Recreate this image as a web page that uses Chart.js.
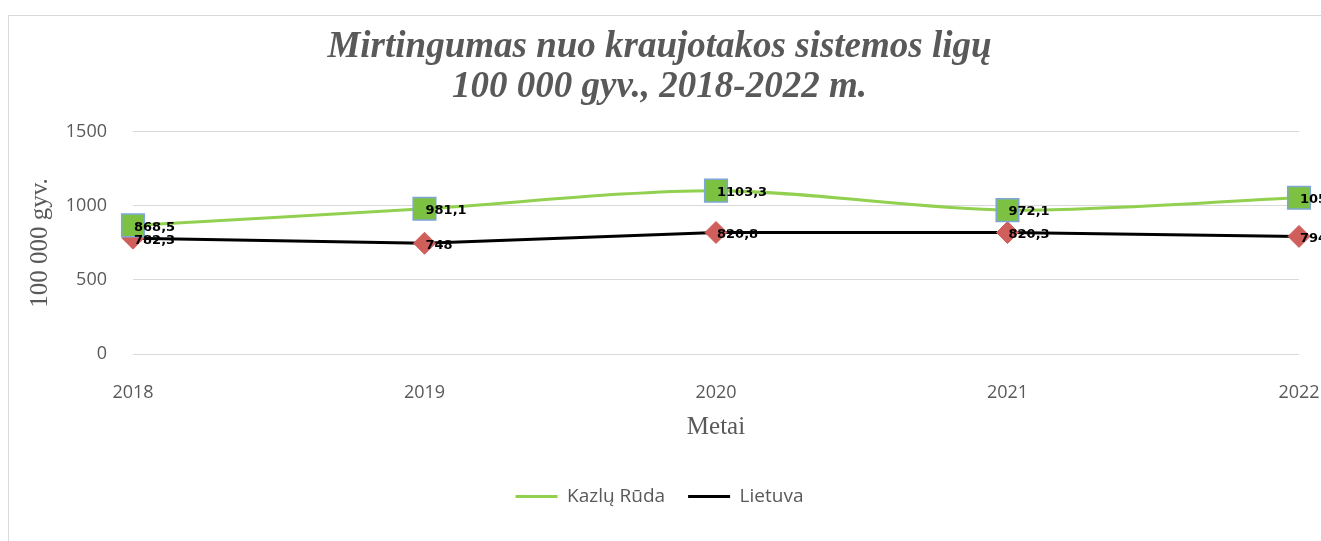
<!DOCTYPE html>
<html>
<head>
<meta charset="utf-8">
<script src="https://cdn.jsdelivr.net/npm/chart.js@4"></script>
<style>
  html, body { margin: 0; padding: 0; background: #fff; overflow: hidden; }
  #myChart { position: absolute; left: 0; top: 0; }
</style>
</head>
<body>
<canvas id="myChart" width="1321" height="541"></canvas>
<script>
const years = ["2018", "2019", "2020", "2021", "2022"];
const kazluRuda = [868.5, 981.1, 1103.3, 972.1, 1055.0];
const lietuva = [782.3, 748, 820.8, 820.3, 794.4];
const yTicks = [0, 500, 1000, 1500];

const gray = '#595959';

// chart frame like the Excel chart border
const framePlugin = {
    id: 'frame',
    beforeDraw: chart => {
        const c = chart.ctx;
        c.save();
        c.strokeStyle = '#d9d9d9';
        c.lineWidth = 1;
        c.strokeRect(8.5, 15.5, 1400, 600);
        c.restore();
    }
};

// value labels next to each marker, comma as decimal sign
const valueLabels = {
    id: 'valueLabels',
    afterDatasetsDraw: chart => {
        const c = chart.ctx;
        c.save();
        c.font = 'bold 13px "DejaVu Sans"';
        c.fillStyle = '#000';
        c.textAlign = 'left';
        c.textBaseline = 'middle';
        chart.data.datasets.forEach((ds, i) => {
            chart.getDatasetMeta(i).data.forEach((pt, j) => {
                const txt = String(ds.data[j]).replace('.', ',');
                c.fillText(txt, pt.x + 1, pt.y + 2);
            });
        });
        c.restore();
    }
};

const ctx = document.getElementById('myChart').getContext('2d');
new Chart(ctx, {
    type: 'line',
    data: {
        labels: years,
        datasets: [{
            label: 'Kazlų Rūda',
            data: kazluRuda,
            borderColor: '#92D050',
            borderWidth: 3,
            tension: 0.3,
            pointStyle: 'rect',
            pointRadius: 16,
            pointHoverRadius: 16,
            pointBackgroundColor: '#7CC142',
            pointBorderColor: '#7EA6D8',
            pointBorderWidth: 1.5,
            clip: false
        }, {
            label: 'Lietuva',
            data: lietuva,
            borderColor: '#000000',
            borderWidth: 3,
            tension: 0,
            pointStyle: 'rectRot',
            pointRadius: 11,
            pointHoverRadius: 11,
            pointBackgroundColor: '#D05F5B',
            pointBorderColor: '#D05F5B',
            pointBorderWidth: 1,
            clip: false
        }]
    },
    options: {
        responsive: false,
        animation: false,
        devicePixelRatio: 1,
        layout: { padding: { left: 0, right: 2, top: 0, bottom: 25 } },
        plugins: {
            title: {
                display: true,
                text: ['Mirtingumas nuo kraujotakos sistemos ligų', '100 000 gyv., 2018-2022 m.'],
                color: gray,
                font: { family: '"Liberation Serif"', size: 37, weight: 'bold', style: 'italic', lineHeight: 1.08 },
                padding: { top: 27, bottom: 25 }
            },
            legend: {
                position: 'bottom',
                labels: {
                    color: gray,
                    font: { family: '"Open Sans"', size: 19 },
                    usePointStyle: true,
                    pointStyleWidth: 42,
                    padding: 23,
                    generateLabels: chart => chart.data.datasets.map((ds, i) => ({
                        text: ds.label,
                        fontColor: gray,
                        strokeStyle: ds.borderColor,
                        fillStyle: ds.borderColor,
                        lineWidth: 3,
                        pointStyle: 'line',
                        hidden: false,
                        datasetIndex: i
                    }))
                }
            },
            tooltip: { enabled: false }
        },
        scales: {
            x: {
                offset: false,
                afterFit: axis => {
                    axis.height = 110;
                    axis.paddingRight = 22;
                },
                grid: { display: false, drawTicks: false },
                border: { display: false },
                ticks: { color: gray, font: { family: '"Open Sans"', size: 18 }, padding: 28, maxRotation: 0 },
                title: {
                    display: true, text: 'Metai', color: gray,
                    font: { family: '"Liberation Serif"', size: 25 },
                    padding: { top: 2, bottom: 22 }
                }
            },
            y: {
                min: 0,
                max: 1500,
                afterBuildTicks: axis => { axis.ticks = yTicks.map(v => ({ value: v })); },
                afterFit: axis => { axis.width = 133; },
                grid: { color: '#d9d9d9', drawTicks: false },
                border: { display: false },
                ticks: {
                    color: gray,
                    font: { family: '"Open Sans"', size: 18 },
                    padding: 26,
                    callback: v => String(v)
                },
                title: {
                    display: true, text: '100 000 gyv.', color: gray,
                    font: { family: '"Liberation Serif"', size: 25 },
                    padding: { top: 25, bottom: 6 }
                }
            }
        }
    },
    plugins: [framePlugin, valueLabels]
});
</script>
</body>
</html>
